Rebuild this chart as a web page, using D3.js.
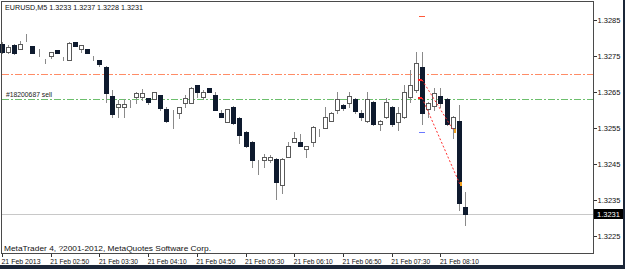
<!DOCTYPE html>
<html>
<head>
<meta charset="utf-8">
<script src="https://cdn.jsdelivr.net/npm/d3@7"></script>
<style>
  body { margin: 0; background: #fff; }
  svg { display: block; font-family: "Liberation Sans", Arial, sans-serif; }
</style>
</head>
<body>
<svg id="graf" width="625" height="269"></svg>
<script>
// Datos: EURUSD M5, 21 Feb 2013
var simbolo = "EURUSD,M5";
var ultimaBarra = [1.3233, 1.3237, 1.3228, 1.3231];
var inicio = "2013-02-21 02:10";
var fin = "2013-02-21 08:30";

var aperturas = [1.32783, 1.32761, 1.32781, 1.32769, 1.32792, 1.32778, 1.32750, 1.32742, 1.32750, 1.32767,
  1.32747, 1.32739, 1.32789, 1.32769, 1.32769, 1.32750, 1.32739, 1.32719, 1.32639, 1.32608,
  1.32608, 1.32622, 1.32636, 1.32636, 1.32633, 1.32631, 1.32642, 1.32603, 1.32581, 1.32592,
  1.32619, 1.32619, 1.32669, 1.32636, 1.32661, 1.32642, 1.32592, 1.32567, 1.32608, 1.32578,
  1.32539, 1.32511, 1.32453, 1.32461, 1.32461, 1.32464, 1.32392, 1.32469, 1.32511, 1.32511,
  1.32492, 1.32511, 1.32539, 1.32550, 1.32569, 1.32600, 1.32614, 1.32619, 1.32631, 1.32592,
  1.32569, 1.32622, 1.32561, 1.32581, 1.32608, 1.32567, 1.32581, 1.32636, 1.32656, 1.32719,
  1.32603, 1.32611, 1.32639, 1.32631, 1.32550, 1.32569, 1.32330];
var maximos = [1.32789, 1.32781, 1.32783, 1.32792, 1.32811, 1.32778, 1.32769, 1.32742, 1.32761, 1.32767,
  1.32747, 1.32789, 1.32789, 1.32781, 1.32769, 1.32750, 1.32739, 1.32722, 1.32656, 1.32628,
  1.32631, 1.32628, 1.32650, 1.32658, 1.32633, 1.32650, 1.32642, 1.32608, 1.32600, 1.32608,
  1.32642, 1.32664, 1.32669, 1.32656, 1.32661, 1.32650, 1.32600, 1.32603, 1.32611, 1.32581,
  1.32542, 1.32514, 1.32461, 1.32478, 1.32475, 1.32467, 1.32467, 1.32511, 1.32539, 1.32533,
  1.32500, 1.32556, 1.32547, 1.32608, 1.32594, 1.32650, 1.32617, 1.32650, 1.32633, 1.32600,
  1.32650, 1.32625, 1.32572, 1.32633, 1.32611, 1.32608, 1.32669, 1.32711, 1.32761, 1.32761,
  1.32622, 1.32661, 1.32661, 1.32633, 1.32583, 1.32614, 1.32370];
var minimos = [1.32758, 1.32758, 1.32756, 1.32769, 1.32792, 1.32758, 1.32750, 1.32731, 1.32744, 1.32758,
  1.32739, 1.32739, 1.32778, 1.32761, 1.32758, 1.32739, 1.32722, 1.32622, 1.32581, 1.32581,
  1.32581, 1.32608, 1.32619, 1.32628, 1.32617, 1.32631, 1.32600, 1.32567, 1.32550, 1.32578,
  1.32608, 1.32619, 1.32636, 1.32631, 1.32650, 1.32600, 1.32581, 1.32567, 1.32561, 1.32508,
  1.32497, 1.32442, 1.32422, 1.32442, 1.32456, 1.32353, 1.32369, 1.32469, 1.32511, 1.32500,
  1.32469, 1.32500, 1.32528, 1.32550, 1.32569, 1.32592, 1.32600, 1.32608, 1.32592, 1.32572,
  1.32567, 1.32558, 1.32544, 1.32578, 1.32556, 1.32544, 1.32578, 1.32622, 1.32650, 1.32561,
  1.32581, 1.32600, 1.32608, 1.32558, 1.32522, 1.32322, 1.32280];
var cierres = [1.32761, 1.32775, 1.32758, 1.32783, 1.32792, 1.32758, 1.32750, 1.32742, 1.32761, 1.32758,
  1.32747, 1.32786, 1.32778, 1.32781, 1.32758, 1.32750, 1.32728, 1.32647, 1.32589, 1.32617,
  1.32617, 1.32622, 1.32647, 1.32647, 1.32622, 1.32650, 1.32606, 1.32569, 1.32581, 1.32608,
  1.32633, 1.32661, 1.32650, 1.32650, 1.32650, 1.32600, 1.32581, 1.32603, 1.32564, 1.32531,
  1.32500, 1.32461, 1.32453, 1.32469, 1.32469, 1.32400, 1.32464, 1.32500, 1.32522, 1.32500,
  1.32500, 1.32553, 1.32539, 1.32581, 1.32592, 1.32631, 1.32606, 1.32639, 1.32597, 1.32581,
  1.32631, 1.32561, 1.32569, 1.32622, 1.32561, 1.32592, 1.32650, 1.32669, 1.32731, 1.32592,
  1.32619, 1.32647, 1.32619, 1.32561, 1.32581, 1.32342, 1.32310];

var ticksPrecio = [1.3225, 1.3235, 1.3245, 1.3255, 1.3265, 1.3275, 1.3285];
var ticksHora = ["02:10", "02:50", "03:30", "04:10", "04:50", "05:30", "06:10", "06:50", "07:30", "08:10"];
var etiquetasHora = ["21 Feb 2013", "21 Feb 02:50", "21 Feb 03:30", "21 Feb 04:10", "21 Feb 04:50",
  "21 Feb 05:30", "21 Feb 06:10", "21 Feb 06:50", "21 Feb 07:30", "21 Feb 08:10"];

// Orden abierta y niveles
var ordenTexto = "#18200687 sell";
var precioOrden = 1.32631;
var precioStop = 1.3270;
// Operaciones cerradas: hora apertura, precio, hora cierre, precio
var opsApertura = ["07:55", "07:55"];
var opsPrecioApertura = [1.32683, 1.32633];
var opsCierre = ["08:20", "08:25"];
var opsPrecioCierre = [1.32542, 1.32394];
var marcaSL = ["07:55", 1.32860];
var marcaTP = ["07:55", 1.32539];
var copyright = "MetaTrader 4, ?2001-2012, MetaQuotes Software Corp.";

// ---------------------------------------------------------------
var svg = d3.select("#graf");
var izq = 1.5, der = 593.5, arriba = 1.5, abajo = 253.5;

var parser = d3.timeParse("%Y-%m-%d %H:%M");
var hora = function (h) { return +parser("2013-02-21 " + h); };
var barras = d3.timeMinute.every(5).range(parser(inicio), new Date(+parser(fin) + 1)).map(Number);

var x = d3.scalePoint().domain(barras).range([2, 464.8]);
var y = d3.scaleLinear().domain([1.3225, 1.3285]).range([235.6, 20]);

var datos = barras.map(function (t, i) {
  return { t: t, o: aperturas[i], h: maximos[i], l: minimos[i], c: cierres[i] };
});

var px = function (v) { return Math.round(v) + 0.5; };

// fondo y bordes de ventana
svg.append("rect").attr("width", 625).attr("height", 269).attr("fill", "#fff");
svg.append("rect").attr("x", 0).attr("y", 265).attr("width", 625).attr("height", 4).attr("fill", "#1b2638");
svg.append("rect").attr("x", 623).attr("y", 0).attr("width", 2).attr("height", 269).attr("fill", "#1b2638");

var g = svg.append("g").attr("shape-rendering", "crispEdges");

// linea de precio actual
g.append("line")
  .attr("x1", izq).attr("x2", der)
  .attr("y1", px(y(ultimaBarra[3]))).attr("y2", px(y(ultimaBarra[3])))
  .attr("stroke", "#c8c8c8");

// niveles de la orden
g.append("line")
  .attr("x1", izq).attr("x2", der)
  .attr("y1", px(y(precioStop))).attr("y2", px(y(precioStop)))
  .attr("stroke", "#ff8c66").style("stroke-dasharray", "7,2,2,2");
g.append("line")
  .attr("x1", izq).attr("x2", der)
  .attr("y1", px(y(precioOrden))).attr("y2", px(y(precioOrden)))
  .attr("stroke", "#6cbf6c").style("stroke-dasharray", "7,2,2,2");
svg.append("text")
  .attr("x", 6).attr("y", px(y(precioOrden)) - 2.5)
  .attr("font-size", "7.5px").attr("fill", "#222")
  .attr("textLength", 46).attr("lengthAdjust", "spacingAndGlyphs")
  .text(ordenTexto);

// velas
var velas = g.selectAll(".vela").data(datos).enter().append("g").attr("class", "vela");
velas.append("line")
  .attr("x1", function (d) { return px(x(d.t)); })
  .attr("x2", function (d) { return px(x(d.t)); })
  .attr("y1", function (d) { return Math.round(y(d.h)); })
  .attr("y2", function (d) { return Math.round(y(d.l)) + 1; })
  .attr("stroke", "#8a8a8a");
velas.append("rect")
  .attr("x", function (d) { return Math.round(x(d.t)) - 1.5; })
  .attr("y", function (d) { return Math.round(y(Math.max(d.o, d.c))) + 0.5; })
  .attr("width", 4)
  .attr("height", function (d) { return Math.max(0, Math.round(y(Math.min(d.o, d.c))) - Math.round(y(Math.max(d.o, d.c)))); })
  .attr("fill", function (d) { return d.c < d.o ? "#0e1a2e" : "#fff"; })
  .attr("stroke", function (d) { return d.c < d.o ? "#0e1a2e" : (d.c == d.o ? "#8a8a8a" : "#5a5a5a"); });

// operaciones cerradas
opsApertura.forEach(function (h, k) {
  g.append("line")
    .attr("x1", x(hora(h))).attr("y1", y(opsPrecioApertura[k]))
    .attr("x2", x(hora(opsCierre[k])) + 1).attr("y2", y(opsPrecioCierre[k]))
    .attr("stroke", "#ff3030").attr("shape-rendering", "auto")
    .style("stroke-dasharray", "2,2");
  g.append("rect")
    .attr("x", Math.round(x(hora(h))) - 4).attr("y", Math.round(y(opsPrecioApertura[k])) - 1)
    .attr("width", 4).attr("height", 2).attr("fill", "#ff2020");
  g.append("rect")
    .attr("x", Math.round(x(hora(opsCierre[k]))) + 1).attr("y", Math.round(y(opsPrecioCierre[k])) - 2)
    .attr("width", 2).attr("height", 4).attr("fill", "#f0a020");
});
g.append("line")
  .attr("x1", Math.round(x(hora(marcaSL[0]))) - 3).attr("x2", Math.round(x(hora(marcaSL[0]))) + 3)
  .attr("y1", px(y(marcaSL[1]))).attr("y2", px(y(marcaSL[1])))
  .attr("stroke", "#ff5a3a");
g.append("line")
  .attr("x1", Math.round(x(hora(marcaTP[0]))) - 3).attr("x2", Math.round(x(hora(marcaTP[0]))) + 3)
  .attr("y1", px(y(marcaTP[1]))).attr("y2", px(y(marcaTP[1])))
  .attr("stroke", "#6a78ff");

// marco
g.append("rect")
  .attr("x", izq).attr("y", arriba)
  .attr("width", der - izq).attr("height", abajo - arriba)
  .attr("fill", "none").attr("stroke", "#4a4a4a");

// eje de precios
var yAxis = svg.append("g")
  .attr("transform", "translate(" + der + ",0)")
  .call(d3.axisRight(y).tickValues(ticksPrecio).tickSize(3).tickFormat(d3.format(".4f")));
yAxis.select(".domain").remove();
yAxis.selectAll("line").attr("stroke", "#333").attr("shape-rendering", "crispEdges");
yAxis.selectAll("text").attr("x", 4).attr("font-size", "7.5px").attr("fill", "#111")
  .attr("font-family", "Liberation Sans, Arial, sans-serif");

// etiqueta del precio actual
var yUlt = Math.round(y(ultimaBarra[3]));
svg.append("rect").attr("x", 594).attr("y", yUlt - 5).attr("width", 29).attr("height", 10).attr("fill", "#000");
svg.append("text").attr("x", 597).attr("y", yUlt + 3)
  .attr("font-size", "7.5px").attr("fill", "#fff").text(ultimaBarra[3].toFixed(4));

// eje de tiempo
var xAxis = svg.append("g")
  .attr("transform", "translate(0," + abajo + ")")
  .call(d3.axisBottom(x).tickValues(ticksHora.map(hora)).tickSize(3)
    .tickFormat(function (d, i) { return etiquetasHora[i]; }));
xAxis.select(".domain").remove();
xAxis.selectAll("line").attr("stroke", "#333").attr("shape-rendering", "crispEdges");
xAxis.selectAll("text")
  .attr("y", 10).attr("dy", 0).attr("x", -1)
  .attr("text-anchor", "start").attr("font-size", "7.5px").attr("fill", "#111")
  .attr("font-family", "Liberation Sans, Arial, sans-serif")
  .attr("textLength", 39).attr("lengthAdjust", "spacingAndGlyphs");

// textos
svg.append("text").attr("x", 5).attr("y", 10)
  .attr("font-size", "8px").attr("fill", "#111")
  .attr("textLength", 138).attr("lengthAdjust", "spacingAndGlyphs")
  .text(simbolo + " " + ultimaBarra.map(function (v) { return v.toFixed(4); }).join(" "));
svg.append("text").attr("x", 4).attr("y", 251)
  .attr("font-size", "8px").attr("fill", "#111")
  .attr("textLength", 207).attr("lengthAdjust", "spacingAndGlyphs")
  .text(copyright);
</script>
</body>
</html>
